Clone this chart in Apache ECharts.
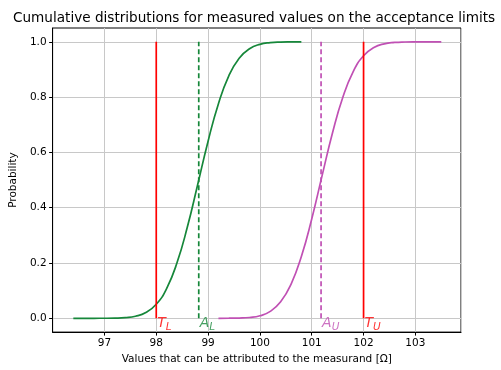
<!DOCTYPE html>
<html lang="en">

<head>
    <meta charset="UTF-8">
    <title>Cumulative distributions</title>
    <style>
        html, body { margin: 0; padding: 0; background: #fff; }
        #main { width: 501px; height: 370px; }
    </style>
</head>

<body>
    <div id="main"></div>
    <script src="https://cdn.jsdelivr.net/npm/echarts@6/dist/echarts.min.js"></script>
    <script>
        // lower acceptance limit curve
        var lowerX = [96.4, 96.6, 96.8, 97.0, 97.2, 97.4, 97.6, 97.8, 98.0, 98.2, 98.4, 98.6,
            98.8, 99.0, 99.2, 99.4, 99.6, 99.8, 100.0, 100.2, 100.4, 100.6, 100.8];
        var lowerY = [0.0, 0.0, 0.0, 0.0001, 0.0006, 0.0023, 0.0073, 0.0207, 0.0505, 0.1075, 0.2005, 0.33,
            0.484, 0.6406, 0.7764, 0.877, 0.9406, 0.975, 0.9909, 0.9971, 0.9992, 0.9998, 1.0];
        // upper acceptance limit curve
        var upperX = [99.2, 99.4, 99.6, 99.8, 100.0, 100.2, 100.4, 100.6, 100.8, 101.0, 101.2, 101.4,
            101.6, 101.8, 102.0, 102.2, 102.4, 102.6, 102.8, 103.0, 103.2, 103.4, 103.5];
        var upperY = [0.0, 0.0002, 0.0008, 0.0029, 0.0091, 0.025, 0.0594, 0.123, 0.2236, 0.3594, 0.516, 0.67,
            0.7995, 0.8925, 0.9495, 0.9793, 0.9927, 0.9977, 0.9994, 0.9999, 1.0, 1.0, 1.0];

        var tolX = [98, 102];         // T_L, T_U
        var accX = [98.82, 101.18];   // A_L, A_U
        var yTicks = [0, 0.2, 0.4, 0.6, 0.8, 1.0];

        var RED = '#ff0000', GREEN = '#16873a', PURPLE = '#c050b4';

        function pairs(xs, ys) {
            return xs.map(function (x, i) { return [x, ys[i]]; });
        }
        function vline(x, color, dashed) {
            return {
                type: 'line', data: [[x, 0], [x, 1]], symbol: 'none', silent: true,
                lineStyle: { color: color, width: 1.7, type: dashed ? [5, 3] : 'solid' }
            };
        }
        function mark(x, main, sub, color) {
            return {
                value: [x, 0],
                label: {
                    show: true, position: [1, -2],
                    formatter: '{m|' + main + '}{s|' + sub + '}',
                    rich: {
                        m: { fontSize: 14, fontStyle: 'italic', color: color, fontFamily: 'DejaVu Sans', verticalAlign: 'top', lineHeight: 16 },
                        s: { fontSize: 10.5, fontStyle: 'italic', color: color, fontFamily: 'DejaVu Sans', verticalAlign: 'bottom', lineHeight: 16 }
                    }
                }
            };
        }

        var chart = echarts.init(document.getElementById('main'));
        var option = {
            animation: false,
            title: {
                text: 'Cumulative distributions for measured values on the acceptance limits',
                left: 8, top: 6,
                textStyle: { fontFamily: 'DejaVu Sans', fontSize: 13.6, fontWeight: 'normal', color: '#000' }
            },
            grid: {
                left: 52, right: 40, top: 28, bottom: 37,
                show: true, borderColor: '#000', borderWidth: 1
            },
            xAxis: {
                type: 'value', min: 96, max: 103.88, interval: 1,
                name: 'Values that can be attributed to the measurand [Ω]',
                nameLocation: 'middle', nameGap: 21,
                nameTextStyle: { fontFamily: 'DejaVu Sans', fontSize: 10.5, color: '#000' },
                axisLine: { show: true, onZero: false, lineStyle: { color: '#000' } },
                axisTick: { show: true, length: 3.5, lineStyle: { color: '#000' } },
                axisLabel: { showMinLabel: false, showMaxLabel: false, margin: 6, fontFamily: 'DejaVu Sans', fontSize: 10.5, color: '#000' },
                splitLine: { show: true, lineStyle: { color: '#c8c8c8', width: 1 } }
            },
            yAxis: {
                type: 'value', min: -0.05, max: 1.05,
                name: 'Probability', nameLocation: 'middle', nameGap: 32,
                nameTextStyle: { fontFamily: 'DejaVu Sans', fontSize: 10.5, color: '#000' },
                axisLine: { show: true, onZero: false, lineStyle: { color: '#000' } },
                axisTick: { show: true, length: 3.5, customValues: yTicks, lineStyle: { color: '#000' } },
                axisLabel: {
                    customValues: yTicks, margin: 6, fontFamily: 'DejaVu Sans', fontSize: 10.5, color: '#000',
                    formatter: function (v) { return v.toFixed(1); }
                },
                splitLine: { show: true, lineStyle: { color: '#c8c8c8', width: 1 } }
            },
            series: [
                {
                    type: 'line', data: pairs(lowerX, lowerY), smooth: true, symbol: 'none',
                    lineStyle: { color: GREEN, width: 1.7 }
                },
                {
                    type: 'line', data: pairs(upperX, upperY), smooth: true, symbol: 'none',
                    lineStyle: { color: PURPLE, width: 1.7 }
                },
                vline(tolX[0], RED, false),
                vline(tolX[1], RED, false),
                vline(accX[0], GREEN, true),
                vline(accX[1], PURPLE, true),
                {
                    type: 'scatter', symbolSize: 0, silent: true,
                    data: [
                        mark(tolX[0], 'T', 'L', RED),
                        mark(accX[0], 'A', 'L', GREEN),
                        mark(accX[1], 'A', 'U', PURPLE),
                        mark(tolX[1], 'T', 'U', RED)
                    ]
                }
            ]
        };
        chart.setOption(option);
    </script>
</body>

</html>
